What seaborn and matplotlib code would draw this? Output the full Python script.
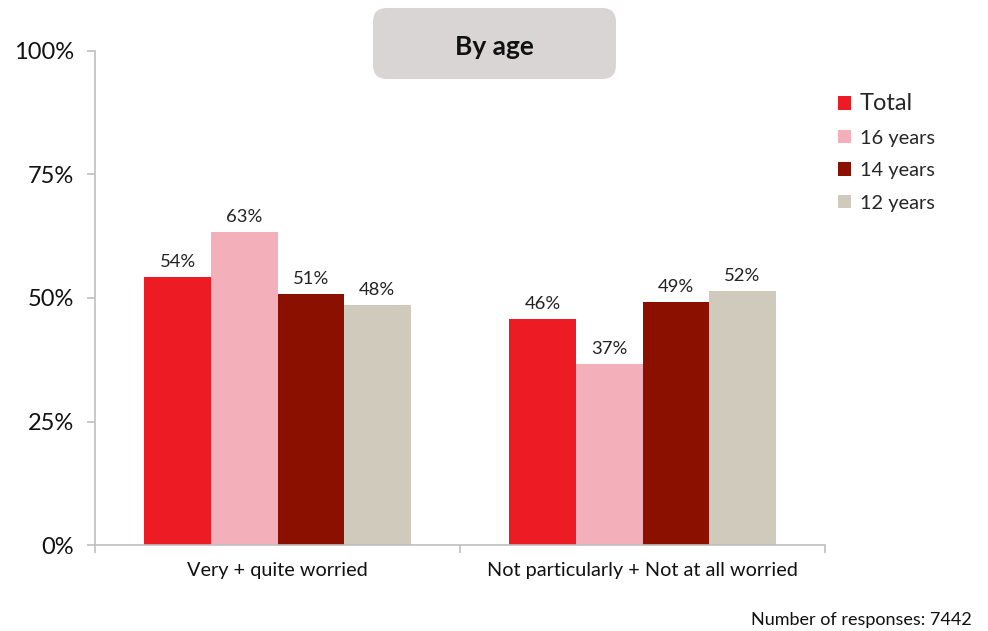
import numpy as np
import pandas as pd
import matplotlib.pyplot as plt
from matplotlib.patches import FancyBboxPatch
import seaborn as sns

categories = ['Very + quite worried', 'Not particularly + Not at all worried']
groups = ['Total', '16 years', '14 years', '12 years']
total = [54.2, 45.8]
age16 = [63.4, 36.6]
age14 = [50.8, 49.2]
age12 = [48.5, 51.5]
colors = ['#ED1C24', '#F4B0BA', '#8B1000', '#D0CABC']

df = pd.DataFrame({
    'category': categories * 4,
    'group': np.repeat(groups, 2),
    'value': total + age16 + age14 + age12,
})

sns.set_style('white')
plt.rcParams['font.family'] = ['Lato', 'DejaVu Sans']

fig = plt.figure(figsize=(9.88, 6.31), dpi=100)
ax = fig.add_axes([95/988, 1 - 545/631, 730/988, 494/631])

sns.barplot(data=df, x='category', y='value', hue='group', order=categories,
            hue_order=groups, palette=colors, width=0.73, saturation=1,
            linewidth=0, ax=ax, errorbar=None)

for cont in ax.containers:
    ax.bar_label(cont, labels=[f'{v:.0f}%' for v in cont.datavalues],
                 padding=5, fontsize=13.3, color='#222222')

gray = '#BFBFBF'
ax.set_ylim(0, 100)
ax.set_xlim(-0.5, 1.5)
ax.set_yticks([0, 25, 50, 75, 100])
ax.set_yticklabels(['0%', '25%', '50%', '75%', '100%'], fontsize=17, color='#111111')
ax.tick_params(axis='y', left=True, length=6, color=gray, width=1.2, pad=9)
ax.set_xticks([0, 1])
ax.set_xticklabels(categories, fontsize=14.3, color='#111111')
ax.set_xticks([-0.5, 0.5, 1.5], minor=True)
ax.tick_params(axis='x', which='major', length=0, pad=12)
ax.tick_params(axis='x', which='minor', bottom=True, length=6, color=gray, width=1.2)
ax.set_xlabel('')
ax.set_ylabel('')
for s in ['top', 'right']:
    ax.spines[s].set_visible(False)
for s in ['left', 'bottom']:
    ax.spines[s].set_color(gray)
    ax.spines[s].set_linewidth(1.2)

leg = ax.legend(loc='upper left', bbox_to_anchor=(820/988, 1 - 75/631),
                bbox_transform=fig.transFigure, frameon=False, fontsize=14.4,
                handlelength=0.65, handleheight=0.65, handletextpad=0.45,
                labelspacing=0.78)
leg.get_texts()[0].set_fontsize(17)

box = FancyBboxPatch((373/988, 1 - 79/631), 243/988, 71/631,
                     boxstyle='round,pad=0,rounding_size=0.014',
                     mutation_aspect=988/631,
                     transform=fig.transFigure, facecolor='#D9D5D5',
                     edgecolor='none')
fig.patches.append(box)
fig.text(494/988, 1 - 47/631, 'By age', ha='center', va='center',
         fontsize=19, fontweight='bold', color='#111111')

fig.text(972/988, 1 - 620/631, 'Number of responses: 7442', ha='right',
         va='center', fontsize=13, color='#111111')

fig.savefig('out.png', dpi=100)
